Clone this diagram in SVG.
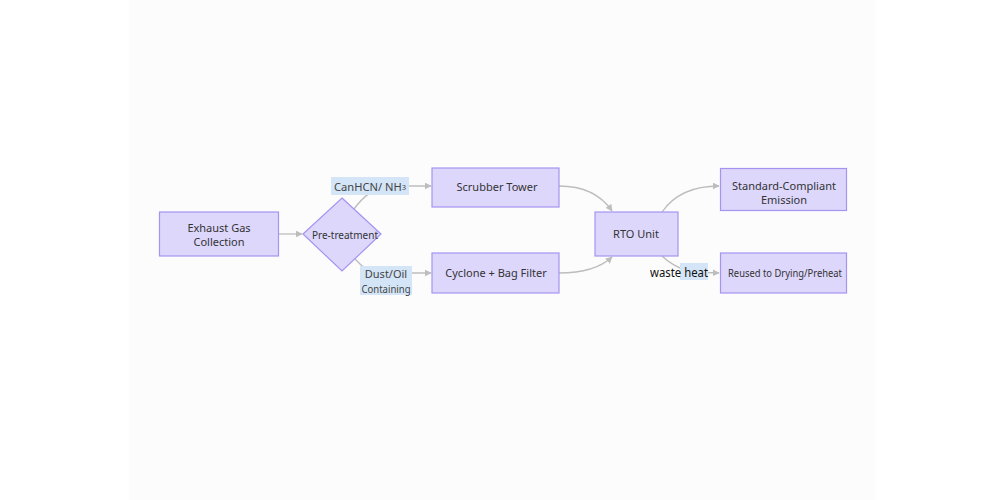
<svg xmlns="http://www.w3.org/2000/svg" width="1000" height="500" viewBox="0 0 1000 500">
<style>
.node{fill:#ddd7fc;stroke:#a693f0;stroke-width:1.2}
.nt{font-family:"Noto Sans","Open Sans",sans-serif;font-size:11px;fill:#333;text-anchor:middle;dominant-baseline:central}
.lbg{fill:#d3e5f7}
.lt{font-family:"Noto Sans","Open Sans",sans-serif;font-size:11px;fill:#444;text-anchor:middle;dominant-baseline:central}
.edge{fill:none;stroke:#bdbdbd;stroke-width:1.3}
</style>
<defs>
<marker id="arr" viewBox="0 0 10 10" refX="9" refY="5" markerWidth="7" markerHeight="7" orient="auto" markerUnits="userSpaceOnUse">
<path d="M0,0 L10,5 L0,10 z" fill="#bdbdbd"/>
</marker>
</defs>
<rect x="0" y="0" width="1000" height="500" fill="#ffffff"/>
<rect x="129" y="0" width="746" height="500" fill="#fcfcfc"/>

<g id="connectors">
<path class="edge" d="M278,234 L302,234" marker-end="url(#arr)"/>
<path class="edge" d="M354,209 Q368,190 385,186 L431,186" marker-end="url(#arr)"/>
<path class="edge" d="M355,259 Q368,274 385,276 Q400,274 410,273 L431,273" marker-end="url(#arr)"/>
<path class="edge" d="M559,186 Q595,186 612,211" marker-end="url(#arr)"/>
<path class="edge" d="M559,273 Q595,273 612,257" marker-end="url(#arr)"/>
<path class="edge" d="M662,212 Q680,186 719,186" marker-end="url(#arr)"/>
<path class="edge" d="M662,256 Q672,266 690,272 L719,273" marker-end="url(#arr)"/>
</g>

<g id="label-canhcn">
<rect class="lbg" x="331" y="177" width="78" height="18"/>
<text class="lt" x="370" y="186" textLength="72" lengthAdjust="spacingAndGlyphs">CanHCN/ NH<tspan font-size="7.5" dy="1">3</tspan></text>
</g>
<g id="label-dust">
<rect class="lbg" x="360" y="266" width="52" height="29"/>
<text class="lt" x="386" y="273.5">Dust/Oil</text>
<text class="lt" x="386" y="288" textLength="49" lengthAdjust="spacingAndGlyphs">Containing</text>
</g>
<g id="label-waste">
<rect class="lbg" x="680" y="263" width="28" height="17"/>
<text x="679" y="272" font-family="'Noto Sans','Open Sans',sans-serif" font-size="12.5" fill="#111" text-anchor="middle" dominant-baseline="central" textLength="58" lengthAdjust="spacingAndGlyphs">waste heat</text>
</g>

<g id="n-exhaust">
<rect class="node" x="159.5" y="212" width="119" height="44"/>
<text class="nt" x="219" y="227">Exhaust Gas</text>
<text class="nt" x="219" y="241">Collection</text>
</g>
<g id="n-pre">
<polygon class="node" points="342,198 381,234 342,271 303,234"/>
<text class="nt" x="345" y="234" textLength="66" lengthAdjust="spacingAndGlyphs">Pre-treatment</text>
</g>
<g id="n-scrubber">
<rect class="node" x="432" y="168" width="127" height="39"/>
<text class="nt" x="497" y="186">Scrubber Tower</text>
</g>
<g id="n-cyclone">
<rect class="node" x="432" y="253" width="127" height="40"/>
<text class="nt" x="496" y="272">Cyclone + Bag Filter</text>
</g>
<g id="n-rto">
<rect class="node" x="595" y="212" width="83" height="44"/>
<text class="nt" x="636" y="233">RTO Unit</text>
</g>
<g id="n-emission">
<rect class="node" x="720.5" y="168.5" width="126" height="42"/>
<text class="nt" x="784" y="185">Standard-Compliant</text>
<text class="nt" x="784" y="199">Emission</text>
</g>
<g id="n-reused">
<rect class="node" x="720.5" y="253" width="126" height="40"/>
<text class="nt" x="785" y="272" font-size="10" textLength="114" lengthAdjust="spacingAndGlyphs">Reused to Drying/Preheat</text>
</g>
</svg>
